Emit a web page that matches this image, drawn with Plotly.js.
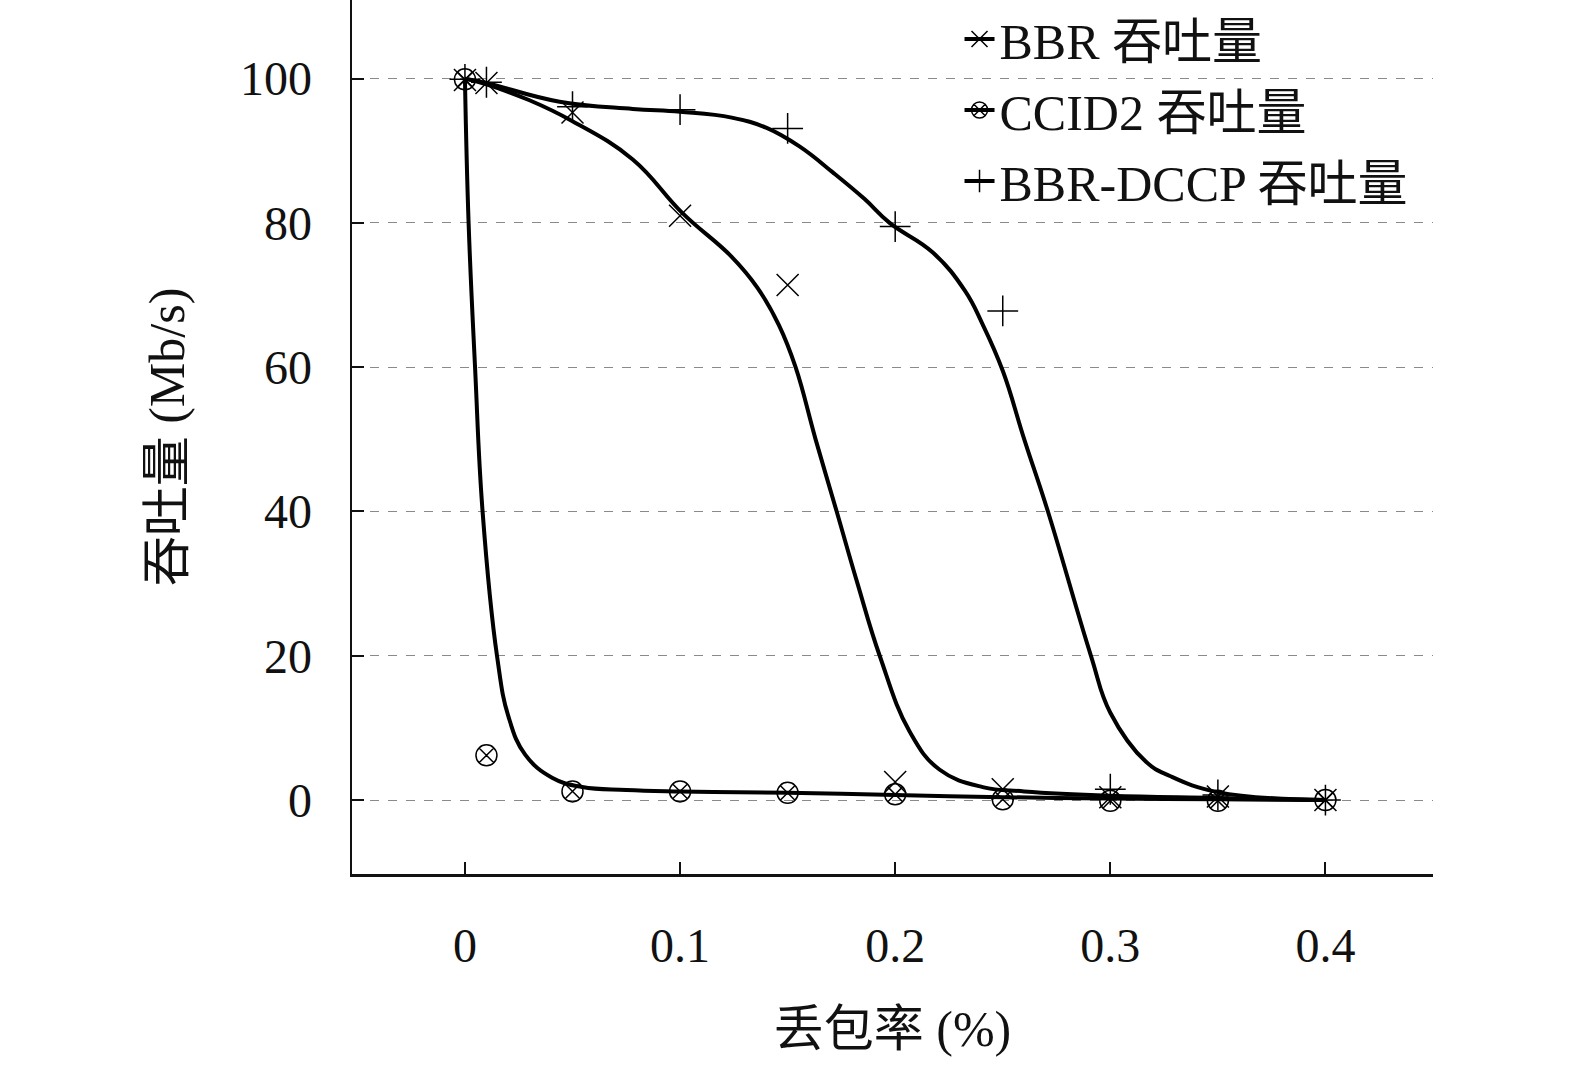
<!DOCTYPE html>
<html>
<head>
<meta charset="utf-8">
<script src="https://cdn.plot.ly/plotly-3.0.1.min.js"></script>
<style>
  html, body { margin: 0; padding: 0; background: #fff; }
  #chart { width: 1575px; height: 1066px; }
</style>
</head>
<body>
<div id="chart"></div>
<script>
// measured points (markers)
var lossPts = [0, 0.01, 0.05, 0.1, 0.15, 0.2, 0.25, 0.3, 0.35, 0.4];
var bbrPts = [99.8, 99.4, 95.3, 81.0, 71.4, 2.5, 1.5, 0.4, 0.5, 0];
var ccidPts = [99.9, 6.2, 1.2, 1.2, 1.0, 0.8, 0.1, -0.1, -0.1, 0];
var dccpPts = [99.9, 99.5, 96.1, 95.7, 93.1, 79.5, 67.8, 1.5, 0.7, 0];

// fitted curves
var bbrCurveX = [0, 0.01, 0.03, 0.05, 0.078, 0.101, 0.124, 0.136, 0.146, 0.1537, 0.163, 0.1728,
                 0.1825, 0.1928, 0.2067, 0.2207, 0.2407, 0.26, 0.3, 0.35, 0.4];
var bbrCurveY = [100, 99.2, 97.0, 94.1, 88.8, 81.4, 75.3, 71.0, 65.8, 60, 50, 40,
                 30, 20, 9.5, 4.2, 1.8, 1.2, 0.6, 0.3, 0];

var ccidCurveX = [0, 0.0017, 0.0047, 0.0082, 0.0149, 0.0203, 0.028, 0.0405, 0.0545, 0.075,
                  0.1, 0.15, 0.2, 0.25, 0.3, 0.35, 0.4];
var ccidCurveY = [100, 80, 60, 40, 20, 11.5, 6.3, 3.1, 1.8, 1.4,
                  1.2, 1.0, 0.7, 0.4, 0.2, 0.1, 0];

var dccpCurveX = [0, 0.01, 0.044, 0.078, 0.1, 0.124, 0.14, 0.1555, 0.171, 0.1858, 0.1974,
                  0.2175, 0.2324, 0.2407, 0.25, 0.26, 0.271, 0.291, 0.3, 0.3166, 0.328, 0.35, 0.4];
var dccpCurveY = [100, 99.4, 96.8, 95.8, 95.4, 94.6, 93.2, 90.6, 87.0, 83.3, 80,
                  75.9, 70.6, 65.9, 59.5, 50, 40, 20, 12.1, 5.3, 3.3, 1.1, 0];

var names = ['BBR 吞吐量', 'CCID2 吞吐量', 'BBR-DCCP 吞吐量'];
var symbols = ['x-thin-open', 'circle-x-open', 'cross-thin-open'];

var FONT = 'Liberation Serif, "Noto Sans CJK SC", serif';

function curve(x, y) {
    return {
        x: x, y: y, mode: 'lines', type: 'scatter', showlegend: false,
        line: {color: '#000', width: 4, shape: 'spline', smoothing: 1.2},
        hoverinfo: 'skip'
    };
}

function points(y, sym, size) {
    return {
        x: lossPts, y: y, mode: 'markers', type: 'scatter', showlegend: false,
        marker: {symbol: sym, size: size, color: '#000', line: {color: '#000', width: 1.5}}
    };
}

function legendItem(i) {
    return {
        x: [null], y: [null], mode: 'lines+markers', type: 'scatter',
        name: names[i], legendgroup: 'g' + i,
        line: {color: '#000', width: 4},
        marker: {symbol: symbols[i], size: 16, color: '#000', line: {color: '#000', width: 1.5}}
    };
}

var data = [
    curve(bbrCurveX, bbrCurveY),
    curve(ccidCurveX, ccidCurveY),
    curve(dccpCurveX, dccpCurveY),
    points(bbrPts, symbols[0], 22),
    points(ccidPts, symbols[1], 21),
    points(dccpPts, symbols[2], 22),
    legendItem(0), legendItem(1), legendItem(2)
];

var layout = {
    width: 1575,
    height: 1066,
    margin: {l: 352, r: 142, t: 0, b: 192},
    paper_bgcolor: '#fff',
    plot_bgcolor: '#fff',
    font: {family: FONT, color: '#111', size: 48},
    showlegend: true,
    legend: {
        x: 0.562, xanchor: 'left',
        y: 1, yanchor: 'top',
        bgcolor: 'rgba(0,0,0,0)',
        font: {family: FONT, size: 50, color: '#111'},
        tracegroupgap: 3
    },
    xaxis: {
        range: [-0.0525, 0.45],
        tickvals: [0, 0.1, 0.2, 0.3, 0.4],
        ticktext: ['0', '0.1', '0.2', '0.3', '0.4'],
        ticks: 'inside', ticklen: 12, tickwidth: 2, tickcolor: '#111',
        showline: true, linecolor: '#111', linewidth: 2.5,
        showgrid: false, zeroline: false,
        ticklabelstandoff: 28,
        tickfont: {family: FONT, size: 48},
        title: {text: '丢包率 (%)', font: {family: FONT, size: 50}, standoff: 40}
    },
    yaxis: {
        range: [-10.25, 110.9],
        tickvals: [0, 20, 40, 60, 80, 100],
        ticks: 'inside', ticklen: 12, tickwidth: 2, tickcolor: '#111',
        showline: true, linecolor: '#111', linewidth: 2.5,
        showgrid: true, gridcolor: '#8a8a8a', gridwidth: 1, griddash: 'dash',
        zeroline: false,
        ticklabelstandoff: 28,
        tickfont: {family: FONT, size: 48},
        title: {text: '吞吐量 (Mb/s)', font: {family: FONT, size: 50}, standoff: 40}
    }
};

Plotly.newPlot('chart', data, layout, {displayModeBar: false, staticPlot: true});
</script>
</body>
</html>
